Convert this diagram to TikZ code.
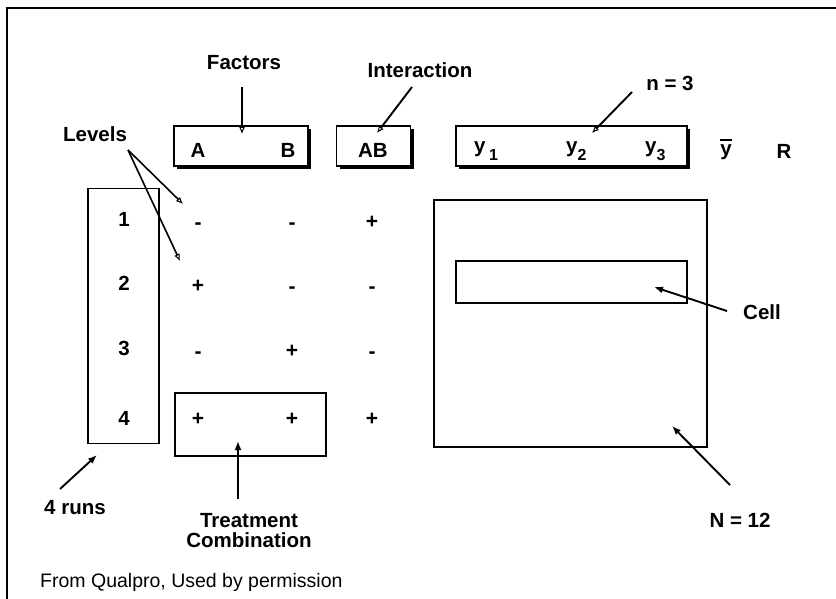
\documentclass[tikz,border=0pt]{standalone}
\usepackage{fontspec}
\setmainfont{Liberation Sans}
\usetikzlibrary{arrows.meta,shadows}
\newcommand{\mysub}[1]{\raisebox{-0.4em}{\fontsize{16}{16}\selectfont #1}}
\newcommand{\myybar}{\leavevmode\rlap{\raisebox{0.74em}{\rule{0.55em}{1.4pt}}}y}
\begin{document}
\begin{tikzpicture}[x=1pt,y=-1pt,
  lbl/.style={font=\bfseries\fontsize{20.5}{20}\selectfont, inner sep=0pt, align=center},
  hdr/.style={draw, line width=1.2pt, fill=white, inner sep=0pt,
    drop shadow={shadow xshift=3pt, shadow yshift=-3pt, fill=black, opacity=1}},
  plainbox/.style={draw, line width=1.2pt, inner sep=0pt},
  sgn/.style={font=\bfseries\fontsize{21}{20}\selectfont, inner sep=0pt, text height=0.7em, text depth=0pt},
  openarr/.style={line width=1.9pt, -{Latex[open,length=7pt,width=6pt,line width=1pt]}},
  fillarr/.style={line width=1.9pt, -{Latex[length=9pt,width=7pt]}},
  frame/.style={line width=1.5pt}
]
\useasboundingbox (0,0) rectangle (836,599);
% frame
\coordinate (fb) at (7,599);
\coordinate (ftl) at (7,8);
\coordinate (ftr) at (836,8);
\draw[frame] (fb) -- (ftl) -- (ftr);

% header boxes
\node[hdr, minimum width=134pt, minimum height=40pt] (abbox) at (241,146) {};
\node[hdr, minimum width=74pt, minimum height=40pt] (intbox) at (373.5,146) {};
\node[hdr, minimum width=231pt, minimum height=40pt] (ybox) at (571.5,146) {};
\node[lbl] (tA) at (198,150) {A};
\node[lbl] (tB) at (288,150) {B};
\node[lbl] (tAB) at (373,150) {AB};
\node[lbl, anchor=west] (ty1) at (474,151) {y\,\mysub{1}};
\node[lbl, anchor=west] (ty2) at (566,151) {y\mysub{2}};
\node[lbl, anchor=west] (ty3) at (645,151) {y\mysub{3}};
\node[lbl, anchor=base] (tybar) at (726,156) {\myybar};
\node[lbl] (tR) at (784,151) {R};

% labels top
\node[lbl] (factors) at (244,63) {Factors};
\node[lbl] (interaction) at (420,70) {Interaction};
\node[lbl] (nthree) at (670,83) {n = 3};
\node[lbl] (levels) at (95,134) {Levels};

% runs box and numbers
\node[plainbox, minimum width=71pt, minimum height=255pt] (runs) at (123.5,316) {};
\node[lbl] (r1) at (124,219) {1};
\node[lbl] (r2) at (124,283) {2};
\node[lbl] (r3) at (124,348) {3};
\node[lbl] (r4) at (124,418) {4};

% treatment box
\node[plainbox, minimum width=151pt, minimum height=63pt] (treat) at (250.5,424.5) {};

% signs
\node[sgn] (s11) at (198,226) {-};
\node[sgn] (s12) at (292,226) {-};
\node[sgn] (s13) at (372,225) {+};
\node[sgn] (s21) at (198,289) {+};
\node[sgn] (s22) at (292,290) {-};
\node[sgn] (s23) at (372,290) {-};
\node[sgn] (s31) at (198,355) {-};
\node[sgn] (s32) at (292,354) {+};
\node[sgn] (s33) at (372,355) {-};
\node[sgn] (s41) at (198,422) {+};
\node[sgn] (s42) at (292,422) {+};
\node[sgn] (s43) at (372,422) {+};

% data boxes
\node[plainbox, minimum width=273pt, minimum height=247pt] (data) at (570.5,323.5) {};
\node[plainbox, minimum width=231pt, minimum height=42pt] (cell) at (571.5,282) {};

% bottom labels
\node[lbl] (runslbl) at (75,508) {4 runs};
\node[lbl] (treatlbl) at (249,531) {Treatment\\Combination};
\node[lbl] (celllbl) at (762,312) {Cell};
\node[lbl] (nlbl) at (740,520) {N = 12};
\node[font=\fontsize{19.5}{20}\selectfont, inner sep=0pt, anchor=west] (credit) at (40,582) {From Qualpro, Used by permission};

% arrow coordinates
\coordinate (fa0) at (242,87);
\coordinate (fa1) at (242,134);
\coordinate (ia0) at (412,87);
\coordinate (ia1) at (377,133);
\coordinate (na0) at (632,92);
\coordinate (na1) at (592,133);
\coordinate (la0) at (128,150);
\coordinate (la1) at (183,204);
\coordinate (la2) at (180,261);
\coordinate (ra0) at (60,489);
\coordinate (ra1) at (97,455);
\coordinate (ta0) at (238,499);
\coordinate (ta1) at (238,441);
\coordinate (ca0) at (727,311);
\coordinate (ca1) at (654,287);
\coordinate (na2) at (730,485);
\coordinate (na3) at (672,426);

\draw[openarr] (fa0) -- (fa1);
\draw[openarr] (ia0) -- (ia1);
\draw[openarr] (na0) -- (na1);
\draw[openarr, line width=1.6pt] (la0) -- (la1);
\draw[openarr, line width=1.6pt] (la0) -- (la2);
\draw[fillarr] (ra0) -- (ra1);
\draw[fillarr] (ta0) -- (ta1);
\draw[fillarr] (ca0) -- (ca1);
\draw[fillarr] (na2) -- (na3);
\end{tikzpicture}
\end{document}
